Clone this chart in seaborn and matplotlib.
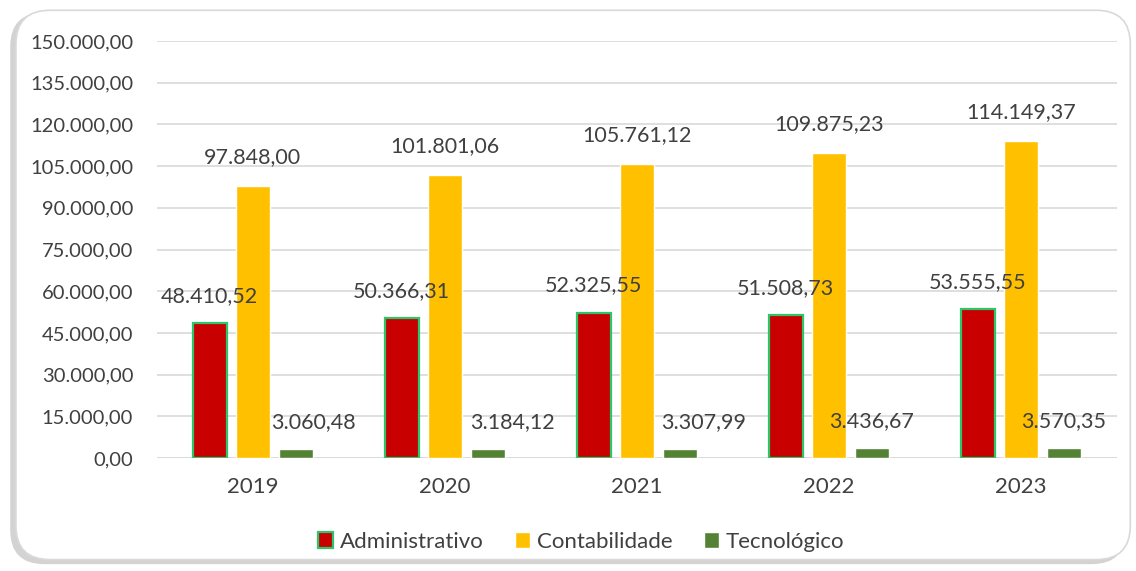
import numpy as np
import pandas as pd
import seaborn as sns
import matplotlib.pyplot as plt
from matplotlib.patches import FancyBboxPatch, Patch

years = ["2019", "2020", "2021", "2022", "2023"]
administrativo = [48410.52, 50366.31, 52325.55, 51508.73, 53555.55]
contabilidade = [97848.00, 101801.06, 105761.12, 109875.23, 114149.37]
tecnologico = [3060.48, 3184.12, 3307.99, 3436.67, 3570.35]
series = ["Administrativo", "Contabilidade", "Tecnológico"]
colors = ["#C80000", "#FFC000", "#548235"]
# horizontal nudge (px) of the Tecnológico labels, as placed in the original
tec_dx = [18, 25, 24, 0, 0]

df = pd.DataFrame({
    "ano": years * 3,
    "valor": administrativo + contabilidade + tecnologico,
    "serie": [s for s in series for _ in years],
})


def br(v):
    return f"{v:,.2f}".replace(",", "X").replace(".", ",").replace("X", ".")


sns.set_theme(style="white")
plt.rcParams["font.family"] = ["Lato", "DejaVu Sans"]
txt = "#404040"

fig = plt.figure(figsize=(11.36, 5.71), dpi=100)

# rounded frame with shadow
fig.patches.append(FancyBboxPatch((0.009, 0.012), 0.982, 0.966, boxstyle="round,pad=0,rounding_size=0.03",
                                  transform=fig.transFigure, facecolor="#C8C8C8", edgecolor="none",
                                  mutation_aspect=1.99, zorder=0, alpha=0.8))
fig.patches.append(FancyBboxPatch((0.014, 0.02), 0.981, 0.962, boxstyle="round,pad=0,rounding_size=0.03",
                                  transform=fig.transFigure, facecolor="white", edgecolor="#D9D9D9",
                                  linewidth=1.2, mutation_aspect=1.99, zorder=0))

ax = fig.add_axes([0.138, 0.198, 0.845, 0.730])
ax.set_zorder(2)
ax.set_facecolor("none")
sns.barplot(data=df, x="ano", y="valor", hue="serie", palette=colors, width=0.672, gap=0.21,
            saturation=1, ax=ax, legend=False, zorder=3)

for i, cont in enumerate(ax.containers):
    for j, (bar, v) in enumerate(zip(cont, df[df["serie"] == series[i]]["valor"])):
        if i == 0:
            bar.set_edgecolor("#2DC46A")
            bar.set_linewidth(1.6)
        dx = tec_dx[j] if i == 2 else 0
        dy = 19 if i == 1 else 17
        ax.annotate(br(v), (bar.get_x() + bar.get_width() / 2, bar.get_height()),
                    xytext=(dx, dy), textcoords="offset pixels",
                    ha="center", va="bottom", fontsize=15.5, color=txt, zorder=5)

ax.set_ylim(0, 150000)
ax.set_yticks(np.arange(0, 150001, 15000))
ax.set_yticklabels([br(t) for t in np.arange(0, 150001, 15000)])
ax.yaxis.grid(True, color="#D9D9D9", linewidth=1.2, zorder=0)
ax.set_axisbelow(True)
for s in ax.spines.values():
    s.set_visible(False)
ax.axhline(0, color="#D9D9D9", linewidth=1.2, zorder=1)
ax.tick_params(axis="y", length=0, pad=17, labelsize=14.5, labelcolor=txt)
ax.tick_params(axis="x", length=0, pad=14, labelsize=16, labelcolor=txt)
ax.set_xlabel("")
ax.set_ylabel("")

handles = [Patch(facecolor=colors[0], edgecolor="#2DC46A", linewidth=1.6),
           Patch(facecolor=colors[1]), Patch(facecolor=colors[2])]
fig.legend(handles, series, loc="center", bbox_to_anchor=(581 / 1136, 1 - 542 / 571), ncol=3,
           frameon=False, fontsize=16, labelcolor=txt, handlelength=0.7, handleheight=0.7,
           handletextpad=0.3, columnspacing=1.4)

fig.savefig("out.png", dpi=100)
